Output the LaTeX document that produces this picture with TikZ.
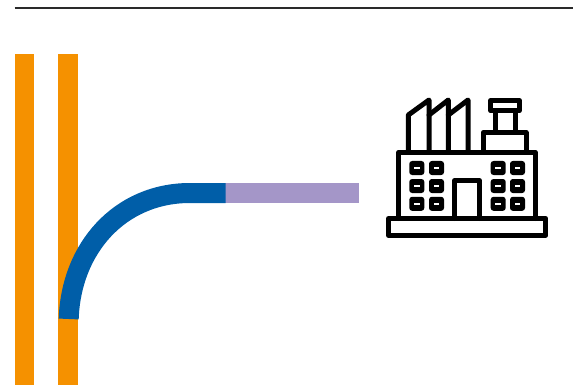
\documentclass[tikz,border=0pt]{standalone}
\definecolor{barorange}{HTML}{F59100}
\definecolor{cableblue}{HTML}{005EA8}
\definecolor{cablepurple}{HTML}{A496C8}
\definecolor{rulegray}{HTML}{2A2A2A}
\tikzset{
  iconline/.style={draw=black,line width=5pt,line join=round,line cap=round},
  iconfill/.style={fill=black,draw=black,line width=2pt,rounded corners=2pt},
  slit/.style={fill=white,draw=none},
  cable/.style={line width=20pt,line cap=butt}
}
\newcommand{\factorywin}[2]{%
  \path[iconfill] (#1+1,#2+1) rectangle (#1+14,#2+13);
  \path[slit] (#1+4.6,#2+5.8) rectangle (#1+10.4,#2+8.2);
}
\begin{document}
\begin{tikzpicture}[x=1pt,y=-1pt]
\useasboundingbox (0,0) rectangle (573,385);
\draw[rulegray,line width=1.4pt] (14.5,8) -- (573,8);
\fill[barorange] (14.6,54) rectangle (34.2,385);
\fill[barorange] (58.2,54) rectangle (78,385);
\fill[cablepurple] (225,183) rectangle (359,203);
\draw[cable,cableblue] (68.7,319) .. controls (71,248) and (120,193) .. (190,193) -- (225.5,193);
% factory icon
\draw[iconline] (388.5,218.5) rectangle (545.7,235.3);
\draw[iconline] (398.7,218.5) -- (398.7,152.3) -- (535.3,152.3) -- (535.3,218.5);
\draw[iconline] (454.7,218.5) -- (454.7,180.7) -- (479.3,180.7) -- (479.3,218.5);
\draw[iconline] (408.3,152.3) -- (408.3,115) -- (429,100) -- (429,152.3);
\draw[iconline] (429,115) -- (448.3,100) -- (448.3,152.3);
\draw[iconline] (448.3,115) -- (468,100) -- (468,152.3);
\draw[iconline] (483.3,152.3) -- (483.3,132.3) -- (526,132.3) -- (526,152.3);
\draw[iconline] (495,132.3) -- (495,110.7);
\draw[iconline] (515,132.3) -- (515,110.7);
\draw[iconline] (490.7,100.5) rectangle (519.3,110.7);
\foreach \wx in {409.3,429,490.7,510}
  \foreach \wy in {161,179,196.8}
    {\factorywin{\wx}{\wy}}
\end{tikzpicture}
\end{document}
